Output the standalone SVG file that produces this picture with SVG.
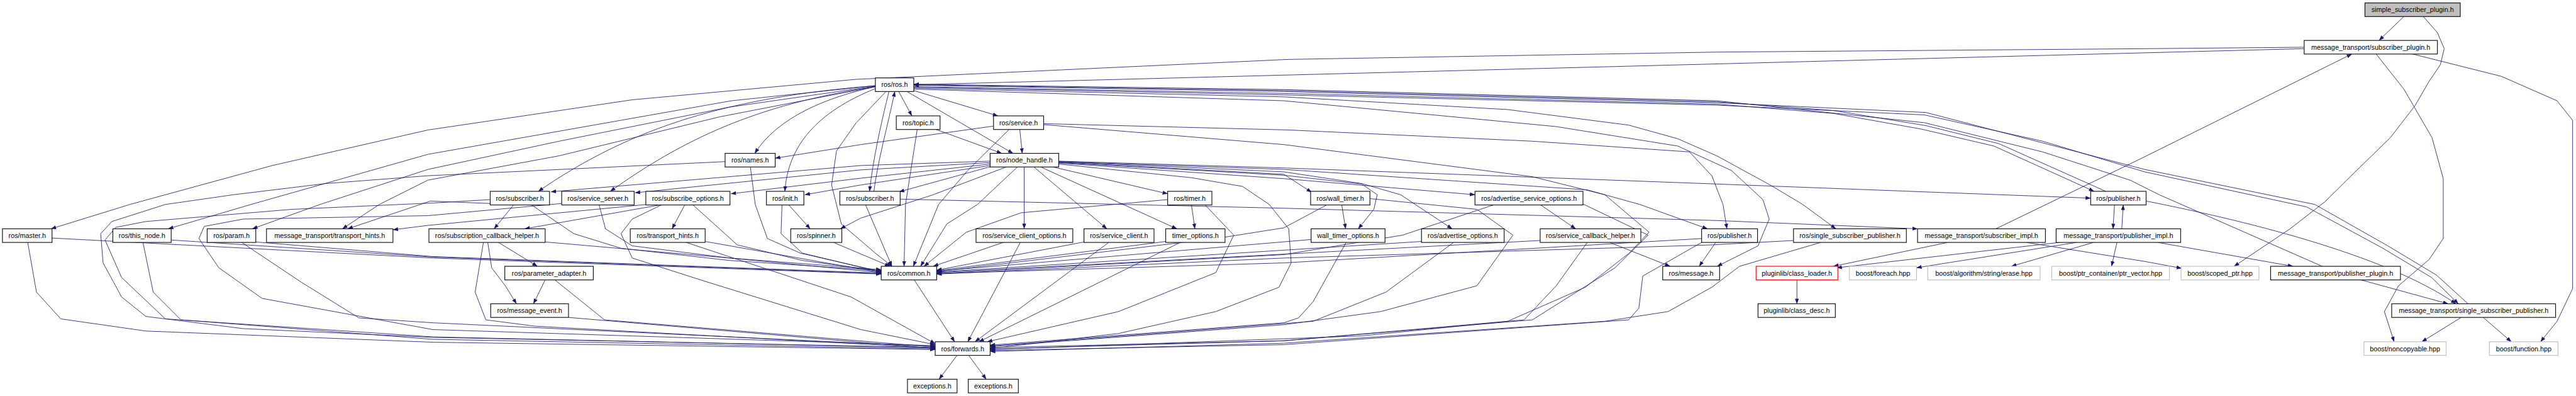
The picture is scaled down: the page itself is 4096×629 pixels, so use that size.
<svg xmlns="http://www.w3.org/2000/svg" width="4096" height="629" viewBox="0 0 4096 629">
<style>
.n rect{fill:#fff;stroke:#111;stroke-width:1.5}
.g rect{stroke:#bfbfbf}
.r rect{stroke:#ff0000}
.root rect{fill:#bfbfbf}
.n text{font-family:"Liberation Sans",Arial,sans-serif;font-size:14px;text-anchor:middle;fill:#000}
#edges path{fill:none;stroke:#191970;stroke-width:1.1;stroke-linejoin:round;marker-end:url(#a)}
</style>
<defs>
<marker id="a" markerUnits="userSpaceOnUse" viewBox="0 0 11 8" markerWidth="11" markerHeight="8" refX="10.5" refY="4" orient="auto"><path d="M0,0 L11,4 L0,8 z" fill="#191970"/></marker>
</defs>
<rect width="4096" height="629" fill="#fff"/>
<g transform="scale(0.77327)">
<g id="edges">
<path d="M4943,34 L4892,83"/>
<path d="M4983,34 L5012,67 L5026,100 L5018,133 L4995,167 L4966,217 L4915,283 L4846,350 L4780,415 L4709,470 L4594,547"/>
<path d="M4738,100 L1879,174"/>
<path d="M4738,97 L4410,100 L3530,107 L2650,122 L1760,163 L1300,205 L880,267 L560,340 L267,420 L105,470"/>
<path d="M4886,111 L4943,183 L5001,283 L5024,367 L5024,490 L4995,533 L4932,587 L4903,640 L4923,702"/>
<path d="M4961,111 L5144,157 L5258,207 L5290,247 L5290,593 L5258,660 L5224,702"/>
<path d="M4104,470 L4400,327 L4836,111"/>
<path d="M1848,188 L1875,238"/>
<path d="M1879,186 L2052,238"/>
<path d="M1865,188 L2083,315"/>
<path d="M1828,188 C1810,260 1795,330 1788,393"/>
<path d="M1797,393 C1805,330 1825,260 1840,188"/>
<path d="M1800,178 C1700,200 1600,240 1552,315"/>
<path d="M1800,176 C1500,200 1300,260 1107,393"/>
<path d="M1800,178 C1550,215 1400,290 1255,393"/>
<path d="M1800,182 C1680,230 1620,300 1614,393"/>
<path d="M1800,176 L1504,207 L1164,267 L880,317 L700,368 L516,420 L346,470"/>
<path d="M1800,177 L1500,220 L1150,290 L880,348 L658,420 L519,470"/>
<path d="M1800,178 L1480,240 L1150,320 L880,370 L780,420 L704,470"/>
<path d="M1822,188 L1760,253 L1720,310 L1710,380 L1730,460 L1800,520 L1834,547"/>
<path d="M1879,178 L2640,192 L3530,214 L3770,233 L3950,265 L4100,300 L4306,393"/>
<path d="M1879,179 L2640,195 L3530,216 L3957,236 L4200,290 L4410,353 L4743,425 L4900,510 L5000,570 L5055,624"/>
<path d="M5075,624 L5010,565 L4910,505 L4760,420 L4410,348 L3960,231 L3530,211 L2640,188 L1879,175"/>
<path d="M4330,393 L4110,295 L3960,258 L3770,227 L3530,209 L2640,186 L1879,174"/>
<path d="M4775,547 L4440,400 L4380,370 L4200,312 L3957,252 L3530,207 L2640,184 L1879,173"/>
<path d="M1879,181 L2640,199 L3100,225 L3349,257 L3450,285 L3530,320 L3640,380 L3707,420 L3775,470"/>
<path d="M1879,183 L2640,207 L3200,260 L3450,300 L3560,350 L3625,410 L3638,450 L3615,505 L3531,547"/>
<path d="M2043,259 L1770,297 L1594,325"/>
<path d="M2036,331 L1770,340 L1133,394"/>
<path d="M2036,334 L1770,349 L1306,396"/>
<path d="M2036,337 L1770,366 L1503,398"/>
<path d="M2036,340 L1770,380 L1655,400"/>
<path d="M2038,342 L1849,394"/>
<path d="M2165,343 L2401,398"/>
<path d="M2106,343 L2106,470"/>
<path d="M2126,343 L2276,470"/>
<path d="M2140,343 L2420,470"/>
<path d="M2177,333 L2640,358 L2697,395"/>
<path d="M2177,335 L2640,367 L3033,400"/>
<path d="M2177,332 L2640,353 L2800,377 L2880,400 L2986,470"/>
<path d="M2177,334 L2640,360 L2800,378 L2832,400 L2825,430 L2793,470"/>
<path d="M2177,331 L2640,345 L3530,378 L4299,407"/>
<path d="M2177,332 L2640,348 L3264,390 L3372,420 L3511,470"/>
<path d="M2069,343 L1919,400 L1770,448 L1728,470"/>
<path d="M2092,343 L2010,420 L1947,460 L1893,547"/>
<path d="M2177,337 L2450,365 L2555,383 L2610,420 L2650,470 L2655,540 L2630,590 L2500,640 L2300,685 L2036,716"/>
<path d="M1925,266 L2060,315"/>
<path d="M1886,266 L1862,420 L1859,547"/>
<path d="M2097,266 L2102,315"/>
<path d="M2075,266 L1990,350 L1930,420 L1878,547"/>
<path d="M2146,254 L2650,267 L3150,290 L3474,312 L3520,361 L3543,420 L3551,470"/>
<path d="M2146,256 L2640,297 L3151,363 L3300,400 L3391,477 L3350,520 L3260,590 L3100,660 L2800,690 L2036,718"/>
<path d="M1491,332 L880,361 L670,377 L480,400 L340,420 L230,455 L207,480 L212,540 L250,610 L300,650 L500,675 L890,693 L1923,714"/>
<path d="M1543,343 L1553,420 L1578,490 L1646,520 L1812,558"/>
<path d="M1056,421 L1016,470"/>
<path d="M1093,421 L1180,480 L1277,510 L1500,535 L1812,556"/>
<path d="M1008,418 L885,413 L715,470"/>
<path d="M1008,410 L890,417 L600,430 L300,455 L238,467 L216,493 L250,570 L340,655 L890,692 L1923,715"/>
<path d="M1155,418 L880,443 L500,450 L420,465 L409,490 L450,550 L539,613 L890,677 L1923,710"/>
<path d="M1232,421 L1245,470 L1300,505 L1500,530 L1812,554"/>
<path d="M1357,421 L1079,470"/>
<path d="M1408,421 L1382,470"/>
<path d="M1425,421 L1516,503 L1650,535 L1812,557"/>
<path d="M1360,421 L1300,450 L1277,480 L1300,530 L1447,577 L1770,677 L1923,708"/>
<path d="M1330,420 L880,463 L808,472"/>
<path d="M1622,421 L1666,470"/>
<path d="M1608,421 L1606,480 L1650,520 L1812,559"/>
<path d="M1851,409 L2650,428 L3530,453 L3943,470"/>
<path d="M1780,421 L1834,547"/>
<path d="M2450,421 L2457,470"/>
<path d="M2401,410 L2100,437 L1987,477 L1900,547"/>
<path d="M2478,421 L2537,483 L2500,560 L2300,640 L2030,702"/>
<path d="M2759,421 L2767,470"/>
<path d="M2728,421 L2640,468 L2500,490 L1926,558"/>
<path d="M2817,408 L3037,430 L3111,483 L3037,587 L2839,640 L2640,667 L2036,712"/>
<path d="M3168,421 L3240,470"/>
<path d="M3071,421 L2884,483 L2640,523 L1926,562"/>
<path d="M3255,419 L3389,483 L3321,550 L3151,657 L2640,700 L2036,717"/>
<path d="M107,489 L890,530 L1812,563"/>
<path d="M57,498 L75,600 L125,655 L300,680 L890,703 L1923,718"/>
<path d="M352,493 L890,528 L1812,562"/>
<path d="M294,498 L315,600 L372,657 L890,697 L1923,717"/>
<path d="M526,497 L890,527 L1812,561"/>
<path d="M497,498 L620,580 L738,653 L890,663 L1923,712"/>
<path d="M1025,498 L1105,547"/>
<path d="M1003,498 L1011,550 L1039,587 L1062,624"/>
<path d="M994,498 L977,600 L999,657 L1100,670 L1923,715"/>
<path d="M1121,497 L1500,530 L1812,560"/>
<path d="M1121,575 L1097,624"/>
<path d="M1141,575 L1243,657 L1923,713"/>
<path d="M1169,652 L1923,716"/>
<path d="M1450,496 L1812,560"/>
<path d="M1411,498 L1750,610 L1923,706"/>
<path d="M1714,498 L1830,547"/>
<path d="M2063,498 L1919,547"/>
<path d="M2098,498 L1990,702"/>
<path d="M2229,497 L1926,555"/>
<path d="M2280,498 L2005,702"/>
<path d="M2397,496 L1926,556"/>
<path d="M2427,498 L2013,702"/>
<path d="M2696,492 L1926,557"/>
<path d="M2768,498 L2700,620 L2670,653 L2640,663 L2036,709"/>
<path d="M2923,496 L1926,559"/>
<path d="M2989,498 L2850,600 L2700,660 L2036,711"/>
<path d="M3167,494 L1926,560"/>
<path d="M3264,498 L3200,587 L3134,657 L2640,700 L2036,714"/>
<path d="M3310,498 L3434,547"/>
<path d="M3499,490 L2640,540 L1926,562"/>
<path d="M3499,498 L3378,567 L3370,633 L3349,657 L2640,708 L2036,720"/>
<path d="M3528,498 L3494,547"/>
<path d="M3688,494 L3520,503 L2640,530 L1926,563"/>
<path d="M3744,498 L3577,547 L3520,590 L3430,640 L3300,660 L2640,705 L2036,722"/>
<path d="M4005,498 L3770,547"/>
<path d="M4167,498 L4410,537 L4486,551"/>
<path d="M4235,498 L3777,550"/>
<path d="M4270,498 L3941,550"/>
<path d="M4305,498 L4136,547"/>
<path d="M4353,498 L4342,547"/>
<path d="M4437,498 L4715,547"/>
<path d="M4363,470 L4366,421"/>
<path d="M4348,421 L4345,470"/>
<path d="M4413,413 C4600,450 4900,520 5050,624"/>
<path d="M4855,575 L5034,624"/>
<path d="M5061,652 L4980,702"/>
<path d="M5106,652 L5164,702"/>
<path d="M3695,575 L3695,624"/>
<path d="M1880,575 L1963,702"/>
<path d="M1968,730 L1931,779"/>
<path d="M1992,730 L2028,779"/>
</g>
<g id="n1" class="n root"><rect x="4863" y="6" width="196" height="28"/><text x="4961" y="25">simple_subscriber_plugin.h</text></g>
<g id="n2" class="n"><rect x="4738" y="83" width="274" height="28"/><text x="4875" y="102">message_transport/subscriber_plugin.h</text></g>
<g id="n3" class="n"><rect x="1800" y="160" width="79" height="28"/><text x="1839.5" y="179">ros/ros.h</text></g>
<g id="n4" class="n"><rect x="1843" y="238" width="90" height="28"/><text x="1888" y="257">ros/topic.h</text></g>
<g id="n5" class="n"><rect x="2043" y="238" width="103" height="28"/><text x="2094.5" y="257">ros/service.h</text></g>
<g id="n6" class="n"><rect x="1491" y="315" width="103" height="28"/><text x="1542.5" y="334">ros/names.h</text></g>
<g id="n7" class="n"><rect x="2036" y="315" width="141" height="28"/><text x="2106.5" y="334">ros/node_handle.h</text></g>
<g id="n8" class="n"><rect x="1008" y="393" width="122" height="28"/><text x="1069" y="412">ros/subscriber.h</text></g>
<g id="n9" class="n"><rect x="1155" y="393" width="149" height="28"/><text x="1229.5" y="412">ros/service_server.h</text></g>
<g id="n10" class="n"><rect x="1328" y="393" width="173" height="28"/><text x="1414.5" y="412">ros/subscribe_options.h</text></g>
<g id="n11" class="n"><rect x="1576" y="393" width="77" height="28"/><text x="1614.5" y="412">ros/init.h</text></g>
<g id="n12" class="n"><rect x="1727" y="393" width="124" height="28"/><text x="1789" y="412">ros/subscriber.h</text></g>
<g id="n13" class="n"><rect x="2401" y="393" width="91" height="28"/><text x="2446.5" y="412">ros/timer.h</text></g>
<g id="n14" class="n"><rect x="2695" y="393" width="122" height="28"/><text x="2756" y="412">ros/wall_timer.h</text></g>
<g id="n15" class="n"><rect x="3033" y="393" width="222" height="28"/><text x="3144" y="412">ros/advertise_service_options.h</text></g>
<g id="n16" class="n"><rect x="4299" y="393" width="114" height="28"/><text x="4356" y="412">ros/publisher.h</text></g>
<g id="n17" class="n"><rect x="5" y="470" width="102" height="28"/><text x="56" y="489">ros/master.h</text></g>
<g id="n18" class="n"><rect x="232" y="470" width="120" height="28"/><text x="292" y="489">ros/this_node.h</text></g>
<g id="n19" class="n"><rect x="426" y="470" width="100" height="28"/><text x="476" y="489">ros/param.h</text></g>
<g id="n20" class="n"><rect x="548" y="470" width="260" height="28"/><text x="678" y="489">message_transport/transport_hints.h</text></g>
<g id="n21" class="n"><rect x="882" y="470" width="239" height="28"/><text x="1001.5" y="489">ros/subscription_callback_helper.h</text></g>
<g id="n22" class="n"><rect x="1296" y="470" width="154" height="28"/><text x="1373" y="489">ros/transport_hints.h</text></g>
<g id="n23" class="n"><rect x="1626" y="470" width="105" height="28"/><text x="1678.5" y="489">ros/spinner.h</text></g>
<g id="n24" class="n"><rect x="2007" y="470" width="199" height="28"/><text x="2106.5" y="489">ros/service_client_options.h</text></g>
<g id="n25" class="n"><rect x="2229" y="470" width="144" height="28"/><text x="2301" y="489">ros/service_client.h</text></g>
<g id="n26" class="n"><rect x="2397" y="470" width="122" height="28"/><text x="2458" y="489">timer_options.h</text></g>
<g id="n27" class="n"><rect x="2696" y="470" width="152" height="28"/><text x="2772" y="489">wall_timer_options.h</text></g>
<g id="n28" class="n"><rect x="2923" y="470" width="170" height="28"/><text x="3008" y="489">ros/advertise_options.h</text></g>
<g id="n29" class="n"><rect x="3167" y="470" width="207" height="28"/><text x="3270.5" y="489">ros/service_callback_helper.h</text></g>
<g id="n30" class="n"><rect x="3499" y="470" width="115" height="28"/><text x="3556.5" y="489">ros/publisher.h</text></g>
<g id="n31" class="n"><rect x="3688" y="470" width="232" height="28"/><text x="3804" y="489">ros/single_subscriber_publisher.h</text></g>
<g id="n32" class="n"><rect x="3943" y="470" width="263" height="28"/><text x="4074.5" y="489">message_transport/subscriber_impl.h</text></g>
<g id="n33" class="n"><rect x="4228" y="470" width="256" height="28"/><text x="4356" y="489">message_transport/publisher_impl.h</text></g>
<g id="n34" class="n"><rect x="1038" y="547" width="182" height="28"/><text x="1129" y="566">ros/parameter_adapter.h</text></g>
<g id="n35" class="n"><rect x="1812" y="547" width="114" height="28"/><text x="1869" y="566">ros/common.h</text></g>
<g id="n36" class="n"><rect x="3419" y="547" width="117" height="28"/><text x="3477.5" y="566">ros/message.h</text></g>
<g id="n37" class="n r"><rect x="3611" y="547" width="168" height="28"/><text x="3695" y="566">pluginlib/class_loader.h</text></g>
<g id="n38" class="n g"><rect x="3803" y="547" width="138" height="28"/><text x="3872" y="566">boost/foreach.hpp</text></g>
<g id="n39" class="n g"><rect x="3964" y="547" width="231" height="28"/><text x="4079.5" y="566">boost/algorithm/string/erase.hpp</text></g>
<g id="n40" class="n g"><rect x="4219" y="547" width="242" height="28"/><text x="4340" y="566">boost/ptr_container/ptr_vector.hpp</text></g>
<g id="n41" class="n g"><rect x="4485" y="547" width="160" height="28"/><text x="4565" y="566">boost/scoped_ptr.hpp</text></g>
<g id="n42" class="n"><rect x="4669" y="547" width="267" height="28"/><text x="4802.5" y="566">message_transport/publisher_plugin.h</text></g>
<g id="n43" class="n"><rect x="1009" y="624" width="160" height="28"/><text x="1089" y="643">ros/message_event.h</text></g>
<g id="n44" class="n"><rect x="3615" y="624" width="159" height="28"/><text x="3694.5" y="643">pluginlib/class_desc.h</text></g>
<g id="n45" class="n"><rect x="4918" y="624" width="337" height="28"/><text x="5086.5" y="643">message_transport/single_subscriber_publisher.h</text></g>
<g id="n46" class="n"><rect x="1923" y="702" width="113" height="28"/><text x="1979.5" y="721">ros/forwards.h</text></g>
<g id="n47" class="n g"><rect x="4861" y="702" width="169" height="28"/><text x="4945.5" y="721">boost/noncopyable.hpp</text></g>
<g id="n48" class="n g"><rect x="5119" y="702" width="141" height="28"/><text x="5189.5" y="721">boost/function.hpp</text></g>
<g id="n49" class="n"><rect x="1866" y="779" width="102" height="28"/><text x="1917" y="798">exceptions.h</text></g>
<g id="n50" class="n"><rect x="1991" y="779" width="103" height="28"/><text x="2042.5" y="798">exceptions.h</text></g>
</g>
</svg>
